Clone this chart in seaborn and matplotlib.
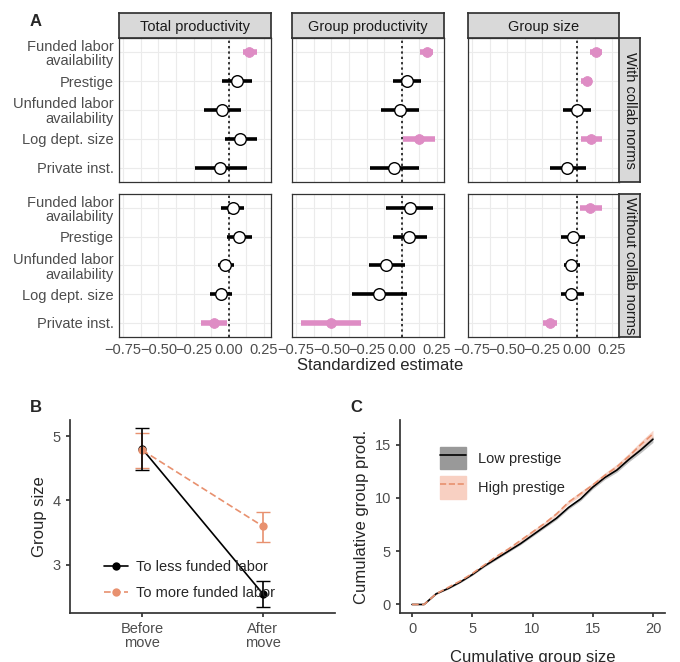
import numpy as np
import pandas as pd
import matplotlib
matplotlib.use("Agg")
import matplotlib.pyplot as plt
import seaborn as sns
from matplotlib.patches import Patch
from matplotlib.lines import Line2D

# ── Data ──────────────────────────────────────────────────────────────────────
predictors = ["Funded labor\navailability", "Prestige", "Unfunded labor\navailability",
              "Log dept. size", "Private inst."]
outcomes = ["Total productivity", "Group productivity", "Group size"]
rows = ["With collab norms", "Without collab norms"]

# estimate, low, high, significant — [row][outcome][predictor]
est = [
    [[0.145, 0.055, -0.045, 0.08, -0.06],
     [0.177, 0.037, -0.012, 0.12, -0.055],
     [0.137, 0.07, 0.0, 0.10, -0.07]],
    [[0.027, 0.073, -0.025, -0.055, -0.105],
     [0.055, 0.05, -0.11, -0.16, -0.505],
     [0.095, -0.03, -0.04, -0.04, -0.195]],
]
lo = [
    [[0.10, -0.045, -0.175, -0.03, -0.24],
     [0.13, -0.06, -0.15, 0.012, -0.225],
     [0.095, 0.03, -0.10, 0.03, -0.195]],
    [[-0.055, -0.015, -0.08, -0.13, -0.195],
     [-0.11, -0.065, -0.235, -0.355, -0.715],
     [0.02, -0.115, -0.095, -0.115, -0.245]],
]
hi = [
    [[0.20, 0.165, 0.09, 0.20, 0.13],
     [0.225, 0.135, 0.125, 0.237, 0.12],
     [0.18, 0.11, 0.10, 0.18, 0.065]],
    [[0.105, 0.165, 0.04, 0.02, -0.012],
     [0.225, 0.18, 0.025, 0.037, -0.29],
     [0.175, 0.06, 0.02, 0.05, -0.14]],
]
sig = [
    [[1, 0, 0, 0, 0], [1, 0, 0, 1, 0], [1, 1, 0, 1, 0]],
    [[0, 0, 0, 0, 1], [0, 0, 0, 0, 1], [1, 0, 0, 0, 1]],
]

# Panel B
move_stage = ["Before\nmove", "After\nmove"]
less_mean, less_lo, less_hi = [4.80, 2.55], [4.47, 2.35], [5.12, 2.75]
more_mean, more_lo, more_hi = [4.78, 3.60], [4.50, 3.36], [5.05, 3.82]

# Panel C
cum_size = [0, 1, 2, 3, 4, 5, 6, 7, 8, 9, 10, 11, 12, 13, 14, 15, 16, 17, 18, 19, 20]
low_prod = [0, 0, 1.0, 1.5, 2.1, 2.8, 3.6, 4.3, 5.0, 5.7, 6.5, 7.3, 8.1, 9.1, 9.9, 11.0, 11.9, 12.6, 13.6, 14.5, 15.5]
high_prod = [0, 0, 1.0, 1.6, 2.2, 2.9, 3.7, 4.5, 5.2, 6.0, 6.8, 7.6, 8.5, 9.6, 10.4, 11.2, 12.1, 12.9, 13.9, 15.0, 16.0]
low_band = [0, 0, 0.05, 0.06, 0.07, 0.08, 0.09, 0.1, 0.1, 0.11, 0.12, 0.13, 0.14, 0.15, 0.16, 0.17, 0.18, 0.2, 0.22, 0.25, 0.3]
high_band = [0, 0, 0.06, 0.07, 0.08, 0.09, 0.1, 0.11, 0.12, 0.13, 0.14, 0.15, 0.16, 0.18, 0.2, 0.21, 0.23, 0.25, 0.28, 0.3, 0.35]

PINK = "#DE8CC4"
ORANGE = "#E8916F"
W, H = 680, 662
FS = 10.5

sns.set_theme(style="whitegrid")
plt.rcParams["font.family"] = ["Liberation Sans", "DejaVu Sans"]
fig = plt.figure(figsize=(W / 100, H / 100), dpi=100)


def box(x0, y0, x1, y1):
    return [x0 / W, 1 - y1 / H, (x1 - x0) / W, (y1 - y0) / H]


# ── Panel A ───────────────────────────────────────────────────────────────────
cols = [(119, 271), (292, 444), (468, 619)]
rws = [(38, 182), (194, 337)]
ypos = np.arange(len(predictors))
for r, (y0, y1) in enumerate(rws):
    for c, (x0, x1) in enumerate(cols):
        ax = fig.add_axes(box(x0, y0, x1, y1))
        df = pd.DataFrame({"pred": ypos, "est": est[r][c], "lo": lo[r][c],
                           "hi": hi[r][c], "sig": sig[r][c]})
        for _, d in df.iterrows():
            col = PINK if d.sig else "black"
            ax.hlines(d.pred, d.lo, d.hi, color=col, lw=2.6 if not d.sig else 4.0, zorder=2)
        sns.scatterplot(data=df[df.sig == 1], x="est", y="pred", ax=ax, color=PINK,
                        s=50, edgecolor=PINK, zorder=3, legend=False)
        sns.scatterplot(data=df[df.sig == 0], x="est", y="pred", ax=ax, color="white",
                        s=70, edgecolor="black", linewidth=1.0, zorder=3, legend=False)
        ax.axvline(0, color="black", ls=(0, (1.5, 2)), lw=1.1, zorder=1)
        ax.set_xlim(-0.78, 0.30)
        ax.set_ylim(len(predictors) - 0.5, -0.5)
        ax.set_xticks([-0.75, -0.5, -0.25, 0, 0.25])
        ax.set_xticks([-0.625, -0.375, -0.125, 0.125], minor=True)
        ax.grid(True, which="both", color="#EBEBEB", lw=0.8)
        ax.set_yticks(ypos)
        ax.set_xlabel("")
        ax.set_ylabel("")
        for s in ax.spines.values():
            s.set_color("#333333")
            s.set_linewidth(0.9)
        ax.tick_params(length=3, color="#333333", labelsize=FS, labelcolor="#4D4D4D", pad=1)
        if c == 0:
            ax.set_yticklabels(predictors, fontsize=FS, color="#4D4D4D", linespacing=1.05)
        else:
            ax.set_yticklabels([])
            ax.tick_params(axis="y", length=0)
        if r == 0:
            ax.set_xticklabels([])
            ax.tick_params(axis="x", length=0)
            sx = fig.add_axes(box(x0, 13, x1, 38))
            sx.set_facecolor("#D9D9D9")
            sx.set_xticks([]); sx.set_yticks([])
            for s in sx.spines.values():
                s.set_color("#333333")
            sx.text(0.5, 0.45, outcomes[c], ha="center", va="center", fontsize=FS,
                    color="#1A1A1A", transform=sx.transAxes)
        else:
            ax.set_xticklabels(["\u22120.75", "\u22120.50", "\u22120.25", "0.00", "0.25"])
        if c == 2:
            st = fig.add_axes(box(619, y0, 640, y1))
            st.set_facecolor("#D9D9D9")
            st.set_xticks([]); st.set_yticks([])
            for s in st.spines.values():
                s.set_color("#333333")
            st.text(0.5, 0.5, rows[r], rotation=-90, ha="center", va="center",
                    fontsize=FS, color="#1A1A1A", transform=st.transAxes)

fig.text(380 / W, 1 - 366 / H, "Standardized estimate", ha="center", va="center", fontsize=12)
fig.text(30 / W, 1 - 22 / H, "A", fontsize=12, fontweight="bold", va="center")

# ── Panel B ───────────────────────────────────────────────────────────────────
axb = fig.add_axes(box(70, 420, 335, 613))
xb = np.arange(len(move_stage))
bdf = pd.DataFrame({"x": np.concatenate([xb, xb]),
                    "y": less_mean + more_mean,
                    "grp": ["To less funded labor"] * 2 + ["To more funded labor"] * 2})
sns.lineplot(data=bdf, x="x", y="y", hue="grp", style="grp", markers=["o", "o"],
             dashes=[(None, None), (4, 2)], palette=["black", ORANGE], ax=axb,
             markeredgewidth=0, markersize=6, lw=1.2)
axb.errorbar(xb, more_mean, yerr=[np.subtract(more_mean, more_lo), np.subtract(more_hi, more_mean)],
             fmt="none", ecolor=ORANGE, capsize=5, lw=1.2, ls="--", zorder=1)
axb.errorbar(xb, less_mean, yerr=[np.subtract(less_mean, less_lo), np.subtract(less_hi, less_mean)],
             fmt="none", ecolor="black", capsize=5, lw=1.2, zorder=2)
axb.set_xlim(-0.6, 1.6)
axb.set_ylim(2.25, 5.25)
axb.set_yticks([3, 4, 5])
axb.set_xticks(xb)
axb.set_xticklabels(move_stage, linespacing=1.0)
axb.set_xlabel("")
axb.set_ylabel("Group size", fontsize=12)
axb.grid(False)
sns.despine(ax=axb)
axb.legend(loc="lower left", frameon=False, fontsize=FS, bbox_to_anchor=(0.08, 0.0),
           handlelength=1.6, handletextpad=0.6, labelspacing=0.8)
fig.text(30 / W, 1 - 408 / H, "B", fontsize=12, fontweight="bold", va="center")

# ── Panel C ───────────────────────────────────────────────────────────────────
axc = fig.add_axes(box(400, 420, 665, 613))
cdf = pd.DataFrame({"x": cum_size * 2, "y": low_prod + high_prod,
                    "grp": ["Low prestige"] * len(cum_size) + ["High prestige"] * len(cum_size)})
axc.fill_between(cum_size, np.subtract(low_prod, low_band), np.add(low_prod, low_band),
                 color="#999999", alpha=0.6, lw=0)
axc.fill_between(cum_size, np.subtract(high_prod, high_band), np.add(high_prod, high_band),
                 color="#F4B9A5", alpha=0.6, lw=0)
sns.lineplot(data=cdf, x="x", y="y", hue="grp", style="grp",
             dashes=[(None, None), (4, 2)], palette=["black", ORANGE], ax=axc, lw=1.2,
             legend=False)
handles = [(Patch(color="#999999"), Line2D([], [], color="black", lw=1.2)),
           (Patch(color="#F8D0C2"), Line2D([], [], color=ORANGE, lw=1.2, ls="--"))]
axc.legend(handles, ["Low prestige", "High prestige"], loc="upper left",
           bbox_to_anchor=(0.1, 0.93), frameon=False, fontsize=FS, handlelength=1.8,
           handleheight=2.0)
axc.set_xlim(-1, 21)
axc.set_ylim(-0.8, 17.3)
axc.set_xticks([0, 5, 10, 15, 20])
axc.set_yticks([0, 5, 10, 15])
axc.set_xlabel("Cumulative group size", fontsize=12, labelpad=10)
axc.set_ylabel("Cumulative group prod.", fontsize=12)
axc.grid(False)
sns.despine(ax=axc)
fig.text(350 / W, 1 - 408 / H, "C", fontsize=12, fontweight="bold", va="center")

for a in (axb, axc):
    for s in a.spines.values():
        s.set_color("#333333")
    a.tick_params(left=True, bottom=True, length=3, color="#333333", labelsize=FS,
                  labelcolor="#4D4D4D")

fig.savefig("out.png", dpi=100)
